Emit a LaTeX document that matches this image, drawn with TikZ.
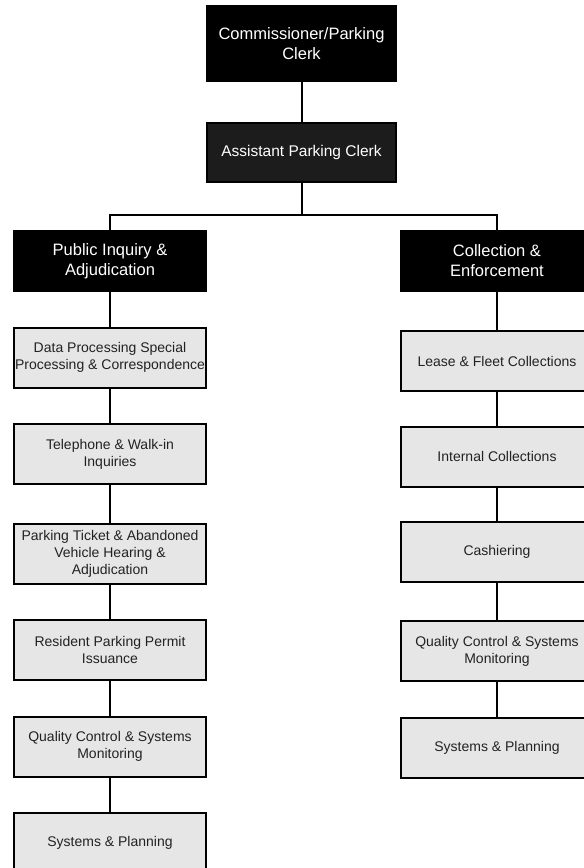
\documentclass[tikz,border=0pt]{standalone}
\usepackage{fontspec}
\setmainfont{Liberation Sans}
\definecolor{boxgrey}{HTML}{E6E6E6}
\definecolor{darkbox}{HTML}{1C1C1C}
\definecolor{txt}{HTML}{222222}
\tikzset{
  headbox/.style={draw=black, line width=2pt, fill=black, text=white, align=center,
    font=\fontsize{16.5}{20}\selectfont, inner sep=0pt},
  subbox/.style={draw=black, line width=2pt, fill=boxgrey, text=txt, align=center,
    minimum width=192pt, minimum height=60pt, inner sep=0pt,
    font=\fontsize{14}{17}\selectfont},
  link/.style={draw=black, line width=2pt}
}
\begin{document}
\begin{tikzpicture}[x=1pt,y=-1pt]
\useasboundingbox (0,0) rectangle (584,868);
% top
\node[headbox, minimum width=189pt, minimum height=75pt] (comm) at (301.5,43.5) {Commissioner/Parking\\Clerk};
\node[headbox, fill=darkbox, minimum width=189pt, minimum height=59pt, font=\fontsize{15.5}{20}\selectfont] (asst) at (301.5,152.5) {Assistant Parking Clerk};
\coordinate (bus) at (301.5,215);
% branch heads
\node[headbox, minimum width=192pt, minimum height=60pt] (pi) at (110,261) {Public Inquiry \&\\Adjudication};
\node[headbox, minimum width=192pt, minimum height=60pt] (ce) at (497,261) {Collection \&\\Enforcement};
% left column
\node[subbox] (l1) at (110,357.5) {Data Processing Special\\Processing \& Correspondence};
\node[subbox] (l2) at (110,454) {Telephone \& Walk-in\\Inquiries};
\node[subbox] (l3) at (110,554) {Parking Ticket \& Abandoned\\Vehicle Hearing \&\\Adjudication};
\node[subbox] (l4) at (110,649.5) {Resident Parking Permit\\Issuance};
\node[subbox] (l5) at (110,746.5) {Quality Control \& Systems\\Monitoring};
\node[subbox] (l6) at (110,843) {Systems \& Planning};
% right column
\node[subbox] (r1) at (497,361) {Lease \& Fleet Collections};
\node[subbox] (r2) at (497,456.5) {Internal Collections};
\node[subbox] (r3) at (497,552) {Cashiering};
\node[subbox] (r4) at (497,651) {Quality Control \& Systems\\Monitoring};
\node[subbox] (r5) at (497,748) {Systems \& Planning};
% connectors
\draw[link] (comm.south) -- (asst.north);
\draw[link] (asst.south) -- (bus);
\draw[link] (pi.north) |- (bus) -| (ce.north);
\draw[link] (pi.south) -- (l1.north);
\draw[link] (l1.south) -- (l2.north);
\draw[link] (l2.south) -- (l3.north);
\draw[link] (l3.south) -- (l4.north);
\draw[link] (l4.south) -- (l5.north);
\draw[link] (l5.south) -- (l6.north);
\draw[link] (ce.south) -- (r1.north);
\draw[link] (r1.south) -- (r2.north);
\draw[link] (r2.south) -- (r3.north);
\draw[link] (r3.south) -- (r4.north);
\draw[link] (r4.south) -- (r5.north);
\end{tikzpicture}
\end{document}
